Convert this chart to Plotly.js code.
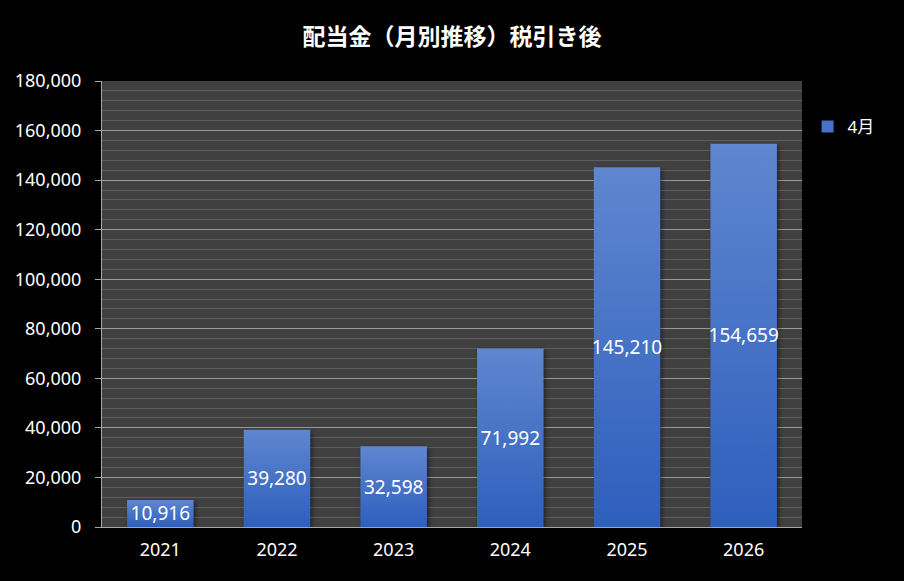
<!DOCTYPE html>
<html>
<head>
<meta charset="utf-8">
<script src="https://cdn.plot.ly/plotly-3.0.1.min.js"></script>
<style>
  html, body { margin: 0; padding: 0; background: #000; }
  #chart { width: 904px; height: 581px; }
</style>
</head>
<body>
<div id="chart"></div>
<script>
var years = ["2021", "2022", "2023", "2024", "2025", "2026"];
var april = [10916, 39280, 32598, 71992, 145210, 154659];
var seriesName = "4月";
var chartTitle = "配当金（月別推移）税引き後";

var font = "'Noto Sans', 'Noto Sans CJK JP', sans-serif";

var trace = {
    type: "bar",
    name: seriesName,
    x: years,
    y: april,
    marker: {color: "#4672c8"},
    texttemplate: "%{y:,}",
    textposition: "inside",
    insidetextanchor: "middle",
    textangle: 0,
    constraintext: "none",
    textfont: {color: "#ffffff", size: 19, family: font},
    hoverinfo: "none"
};

var layout = {
    width: 904,
    height: 581,
    paper_bgcolor: "#000000",
    plot_bgcolor: "#404040",
    margin: {l: 102, r: 102, t: 81, b: 54},
    bargap: 0.43,
    font: {family: font, color: "#ffffff", size: 18},
    title: {
        text: "<b>" + chartTitle + "</b>",
        font: {family: "'Noto Sans CJK JP', sans-serif", size: 23, color: "#ffffff"},
        x: 0.5, xref: "paper",
        y: 0.936, yref: "container", yanchor: "middle"
    },
    xaxis: {
        showline: true,
        linecolor: "#a6a6a6",
        linewidth: 1,
        ticks: "",
        tickfont: {size: 18, color: "#ffffff"},
        ticklabelstandoff: 6
    },
    yaxis: {
        range: [0, 180000],
        dtick: 20000,
        tickformat: ",d",
        showline: true,
        linecolor: "#a6a6a6",
        gridcolor: "#9a9a9a",
        gridwidth: 1,
        ticks: "outside",
        ticklen: 6,
        tickcolor: "#a6a6a6",
        tickfont: {size: 18, color: "#ffffff"},
        ticklabelstandoff: 10,
        zeroline: false,
        minor: {dtick: 4000, showgrid: true, gridcolor: "#5e5e5e", gridwidth: 1}
    },
    showlegend: true,
    legend: {
        x: 1.008, xanchor: "left",
        y: 0.897, yanchor: "middle",
        font: {size: 17, color: "#ffffff"},
        bgcolor: "rgba(0,0,0,0)"
    }
};

// Excel風のグラデーション
function addGradient(){
    var svg = document.querySelector("#chart .main-svg");
    if(!svg || document.getElementById("barGrad")) return;
    var ns = "http://www.w3.org/2000/svg";
    var defs = svg.querySelector("defs") || svg.insertBefore(document.createElementNS(ns, "defs"), svg.firstChild);
    var grad = document.createElementNS(ns, "linearGradient");
    grad.setAttribute("id", "barGrad");
    grad.setAttribute("x1", "0"); grad.setAttribute("y1", "0");
    grad.setAttribute("x2", "0"); grad.setAttribute("y2", "1");
    [["0", "#5f86cf"], ["1", "#2e5fbd"]].forEach(function(s){
        var stop = document.createElementNS(ns, "stop");
        stop.setAttribute("offset", s[0]);
        stop.setAttribute("stop-color", s[1]);
        grad.appendChild(stop);
    });
    defs.appendChild(grad);
    document.querySelectorAll("#chart .bars .point path").forEach(function(p){
        p.style.fill = "url(#barGrad)";
        p.style.filter = "drop-shadow(2px 2px 2px rgba(0,0,0,0.45))";
    });
}

Plotly.newPlot("chart", [trace], layout, {staticPlot: true}).then(addGradient);
</script>
</body>
</html>
